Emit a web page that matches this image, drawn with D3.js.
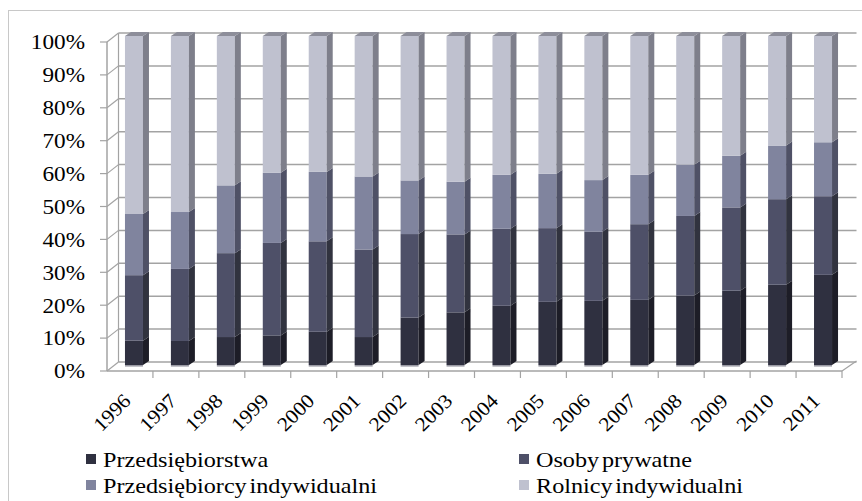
<!DOCTYPE html>
<html><head><meta charset="utf-8">
<script src="https://cdn.jsdelivr.net/npm/d3@7"></script>
<style>body{margin:0;background:#fff}svg{display:block}</style>
</head><body>
<svg id="c" width="862" height="501"></svg>
<script>
const years = ["1996","1997","1998","1999","2000","2001","2002","2003","2004","2005","2006","2007","2008","2009","2010","2011"];
const seriesNames = ["Przedsiębiorstwa","Osoby prywatne","Przedsiębiorcy indywidualni","Rolnicy indywidualni"];
const przedsiebiorstwa = [7.4,7.3,8.5,9.0,10.1,8.5,14.4,16.0,18.0,19.2,19.5,19.8,21.1,22.6,24.4,27.4];
const osobyPrywatne = [19.9,21.9,25.5,28.1,27.5,26.6,25.4,23.7,23.4,22.4,21.0,23.0,24.2,25.3,26.0,23.9];
const przedsiebiorcyInd = [18.6,17.3,20.6,21.3,21.1,22.2,16.3,16.0,16.4,16.5,15.7,15.0,15.6,15.7,16.3,16.4];
const rolnicyInd = [54.1,53.5,45.4,41.6,41.3,42.7,43.9,44.3,42.2,41.9,43.8,42.2,39.1,36.4,33.3,32.3];
const yTicks = [0,10,20,30,40,50,60,70,80,90,100];

const frontColors = ["#2f3040","#4e5068","#80849e","#bfc1cf"];
const sideColors  = ["#1d1d27","#31333f","#4f5166","#7e7f8b"];
const topColor = "#8d8e9a";
const gridColor = "#a3a3a3";
const FONT = '"Liberation Serif"';

const svg = d3.select("#c");

svg.append("rect").attr("x",8.5).attr("y",10.5).attr("width",900).attr("height",520)
  .attr("fill","none").attr("stroke","#c8c8c8").attr("stroke-width",1);

const x = d3.scaleBand().domain(years).range([107,842]);
const y = d3.scaleLinear().domain([0,100]).range([371,42]);
const DX = 11.5, DY = -9;
const BX = 4, BY = -6;
const BW = 18, SX = 6, SY = -4;

const g = svg.append("g");
yTicks.forEach(t=>{
  g.append("line").attr("x1",x.range()[0]+DX).attr("x2",x.range()[1]+DX+3)
   .attr("y1",y(t)+DY).attr("y2",y(t)+DY).attr("stroke",gridColor).attr("stroke-width",1.5);
  g.append("line").attr("x1",x.range()[0]).attr("x2",x.range()[0]+DX)
   .attr("y1",y(t)).attr("y2",y(t)+DY).attr("stroke",gridColor).attr("stroke-width",1.2);
  g.append("line").attr("x1",x.range()[0]-7).attr("x2",x.range()[0])
   .attr("y1",y(t)).attr("y2",y(t)).attr("stroke",gridColor).attr("stroke-width",1.2);
});
g.append("line").attr("x1",x.range()[0]+DX).attr("x2",x.range()[0]+DX)
 .attr("y1",y(100)+DY).attr("y2",y(0)+DY).attr("stroke",gridColor).attr("stroke-width",1.2);
g.append("line").attr("x1",x.range()[0]).attr("x2",x.range()[0])
 .attr("y1",y(100)).attr("y2",y(0)).attr("stroke",gridColor).attr("stroke-width",1.5);
g.append("line").attr("x1",x.range()[1]).attr("x2",x.range()[1]+DX+3)
 .attr("y1",y(0)).attr("y2",y(0)+DY-1).attr("stroke",gridColor).attr("stroke-width",1.2);

const table = years.map((yr,i)=>({year:yr, v:[przedsiebiorstwa[i],osobyPrywatne[i],przedsiebiorcyInd[i],rolnicyInd[i]]}));
const bars = g.append("g");
table.forEach(d=>{
  const total = d3.sum(d.v);
  const x0 = x(d.year) + x.bandwidth()/2 + BX - BW/2;
  let cum = 0;
  d.v.forEach((val,k)=>{
    const lo = cum/total*100, hi = (cum+val)/total*100;
    cum += val;
    const yLo = y(lo)+BY, yHi = y(hi)+BY;
    bars.append("rect").attr("x",x0).attr("y",yHi).attr("width",BW).attr("height",yLo-yHi)
      .attr("fill",frontColors[k]);
    bars.append("path").attr("d",`M${x0+BW},${yHi}L${x0+BW+SX},${yHi+SY}L${x0+BW+SX},${yLo+SY}L${x0+BW},${yLo}Z`)
      .attr("fill",sideColors[k]);
  });
  const yTop = y(100)+BY;
  bars.append("path").attr("d",`M${x0},${yTop}L${x0+SX},${yTop+SY}L${x0+BW+SX},${yTop+SY}L${x0+BW},${yTop}Z`)
    .attr("fill",topColor);
  bars.append("line").attr("x1",x0).attr("x2",x0+BW).attr("y1",y(0)+BY+0.8).attr("y2",y(0)+BY+0.8)
    .attr("stroke","#9a9aa4").attr("stroke-width",1.6);
});

g.append("line").attr("x1",x.range()[0]).attr("x2",x.range()[1])
 .attr("y1",y(0)).attr("y2",y(0)).attr("stroke",gridColor).attr("stroke-width",1.5);
years.forEach(yr=>{
  const xx = x(yr)+x.bandwidth();
  g.append("line").attr("x1",xx).attr("x2",xx).attr("y1",y(0)).attr("y2",y(0)+7)
   .attr("stroke",gridColor).attr("stroke-width",1.2);
});

yTicks.forEach(t=>{
  svg.append("text").attr("transform",`translate(85,${y(t)}) scale(1.08,1)`).attr("dy","0.34em")
    .attr("text-anchor","end").style("font-family",FONT).style("font-size","21.5px")
    .attr("fill","#000").text(t+"%");
});
years.forEach(yr=>{
  const cx = x(yr)+x.bandwidth()/2 + 2;
  svg.append("text").attr("transform",`translate(${cx},${402}) rotate(-45) scale(1.08,1)`)
    .attr("text-anchor","end").style("font-family",FONT).style("font-size","20px")
    .attr("fill","#000").text(yr);
});

const legPos = [[86,467],[519,467],[86,493],[519,493]];
seriesNames.forEach((n,k)=>{
  const [lx,ly] = legPos[k];
  svg.append("rect").attr("x",lx).attr("y",ly-13).attr("width",10).attr("height",10).attr("fill",frontColors[k]);
  svg.append("text").attr("transform",`translate(${lx+17},${ly}) scale(1.1,1)`)
    .style("font-family",FONT).style("font-size","22px").style("word-spacing","-3px")
    .attr("fill","#000").text(n);
});
</script>
</body></html>
